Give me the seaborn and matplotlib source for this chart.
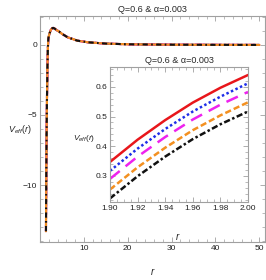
import matplotlib
matplotlib.use("Agg")
import matplotlib.pyplot as plt
from matplotlib.ticker import MultipleLocator, FixedLocator
import seaborn as sns
import pandas as pd

sns.set_style("ticks")
fam = ['Liberation Sans', 'DejaVu Sans']
plt.rcParams['font.family'] = fam
plt.rcParams['mathtext.fontset'] = 'custom'
plt.rcParams['mathtext.rm'] = fam[0]
plt.rcParams['mathtext.it'] = fam[0] + ':italic'

title = "Q=0.6 & α=0.003"

# main panel data (all five curves overlap at this scale)
r_main = [1.36, 1.40, 1.45, 1.50, 1.60, 1.70, 1.80, 1.90, 2.00, 2.20, 2.50, 2.80,
          3.00, 3.30, 3.70, 4.40, 5.00, 6.30, 8.50, 11.0, 15.0, 20.0, 30.0, 40.0, 50.0]
v_main = [-13.3, -11.0, -8.5, -6.5, -3.6, -1.5, -0.2, 0.45, 0.62, 0.85, 1.10, 1.20,
          1.22, 1.18, 1.08, 0.95, 0.80, 0.55, 0.31, 0.19, 0.10, 0.05, 0.02, 0.01, 0.005]

# inset data
r_in = [1.90, 1.92, 1.94, 1.96, 1.98, 2.00]
v_red = [0.347, 0.422, 0.488, 0.547, 0.597, 0.640]
v_blue = [0.317, 0.392, 0.458, 0.517, 0.567, 0.612]
v_mag = [0.290, 0.365, 0.431, 0.490, 0.540, 0.583]
v_orange = [0.254, 0.329, 0.395, 0.454, 0.504, 0.548]
v_black = [0.224, 0.299, 0.365, 0.424, 0.474, 0.517]

series = [
    ("red", v_red, "#e8161b", None),
    ("blue", v_blue, "#1f2ee8", (1, 1)),
    ("magenta", v_mag, "#ee22ee", (5, 3)),
    ("orange", v_orange, "#f39020", (2.5, 1.2)),
    ("black", v_black, "#111111", (2.5, 1, 1, 1)),
]

fig = plt.figure(figsize=(2.66, 2.80), dpi=100)
ax = fig.add_axes([40/266, 1-242/280, 225/266, 226/280])
ins = fig.add_axes([110/266, 1-202/280, 138/266, 135/280])

frame_col = "#a0a0a0"

for name, vin, col, dash in series:
    df_main = pd.DataFrame({"r": r_main, "V": v_main})
    df_in = pd.DataFrame({"r": r_in, "V": vin})
    ls = "-" if dash is None else (0, dash)
    if name == "orange":
        ls_main = "-"
    elif name == "black":
        ls_main = (0, (2.5, 1.6, 0.8, 1.6))
    else:
        ls_main = ls
    sns.lineplot(data=df_main, x="r", y="V", ax=ax, color=col, lw=1.5,
                 linestyle=ls_main, sort=False)
    sns.lineplot(data=df_in, x="r", y="V", ax=ins, color=col, lw=1.8,
                 linestyle=ls, sort=False)

for a in (ax, ins):
    for s in a.spines.values():
        s.set_color(frame_col)
        s.set_linewidth(0.8)
    a.tick_params(which="both", direction="in", color=frame_col, labelsize=6,
                  top=True, right=True, labelcolor="#222222", pad=2)
    a.tick_params(which="major", length=3.5, width=0.6)
    a.tick_params(which="minor", length=2, width=0.5)
    a.set_xlabel("")
    a.set_ylabel("")

ax.set_xlim(0.0, 51.3)
ax.set_ylim(-14.07, 2.07)
ax.xaxis.set_major_locator(FixedLocator([10, 20, 30, 40, 50]))
ax.xaxis.set_minor_locator(MultipleLocator(2))
ax.yaxis.set_major_locator(FixedLocator([-10, -5, 0]))
ax.yaxis.set_minor_locator(MultipleLocator(1))
ax.set_yticklabels(["−10", "−5", "0"])
ax.set_title(title, fontsize=6.5, pad=3)
fig.text(152/266, 1-272/280, "r", style="italic", fontsize=7, ha="center", va="center")
fig.text(20/266, 1-130/280, r"$V_{eff}(r)$", fontsize=6.5, ha="center", va="center")

ins.set_xlim(1.9, 2.0)
ins.set_ylim(0.212, 0.667)
ins.xaxis.set_major_locator(FixedLocator([1.90, 1.92, 1.94, 1.96, 1.98, 2.00]))
ins.xaxis.set_minor_locator(MultipleLocator(0.005))
ins.yaxis.set_major_locator(FixedLocator([0.3, 0.4, 0.5, 0.6]))
ins.yaxis.set_minor_locator(MultipleLocator(0.02))
ins.set_xticklabels(["1.90", "1.92", "1.94", "1.96", "1.98", "2.00"])
ins.set_title(title, fontsize=6.5, pad=3)
fig.text(177/266, 1-237/280, "r", style="italic", fontsize=7, ha="center", va="center")
fig.text(84/266, 1-139/280, r"$V_{eff}(r)$", fontsize=6, ha="center", va="center")

fig.savefig("out.png", dpi=100)
